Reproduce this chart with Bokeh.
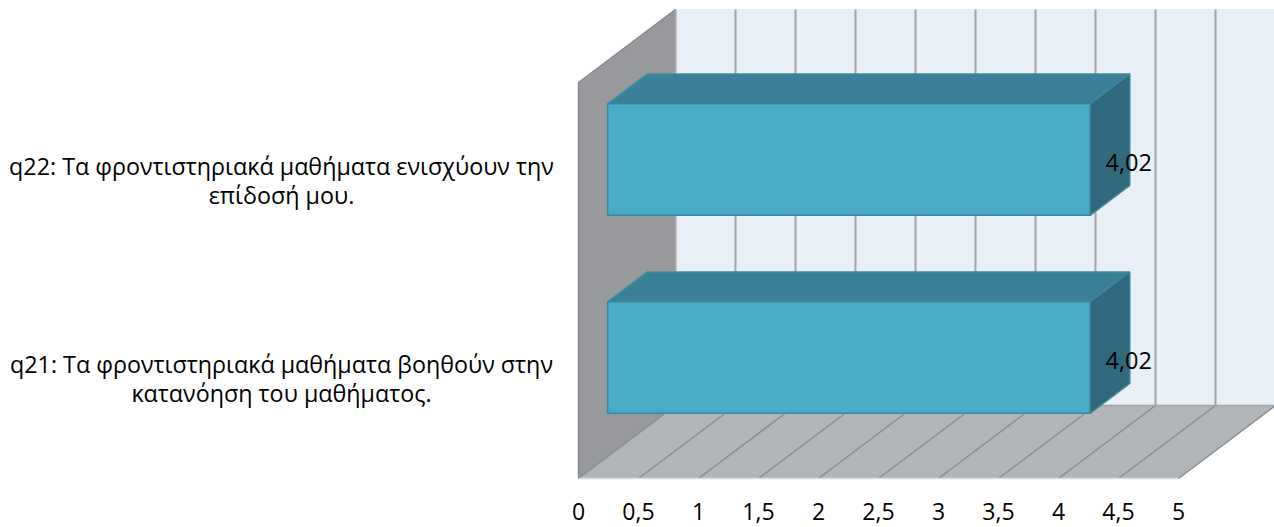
from bokeh.plotting import figure
from bokeh.models import Range1d, FixedTicker
from bokeh.core.properties import value
from bokeh.embed import file_html
from bokeh.resources import INLINE

categories = ["q21: Τα φροντιστηριακά μαθήματα βοηθούν στην\nκατανόηση του μαθήματος.",
              "q22: Τα φροντιστηριακά μαθήματα ενισχύουν την\nεπίδοσή μου."]
values = [4.02, 4.02]
ticks = [0, 0.5, 1, 1.5, 2, 2.5, 3, 3.5, 4, 4.5, 5]
tick_labels = ["0", "0,5", "1", "1,5", "2", "2,5", "3", "3,5", "4", "4,5", "5"]
value_labels = ["4,02", "4,02"]

FONT = "Open Sans"
W, H = 1274, 527
PX_X, PX_Y = 120.0, 198.0     # pixels per value unit, pixels per category
X0, Y0 = 578.0, 478.0         # pixel of the front-bottom origin
DX, DY = 97.0 / PX_X, 73.0 / PX_Y   # full depth shift in data units
AX_MAX, N = ticks[-1], len(categories)
D_FRONT, D_BACK = 0.30, 0.71
BAR = 0.563


def pr(v, c, d):
    return v + d * DX, c + d * DY


def quad(points):
    pts = [pr(*q) for q in points]
    return [a for a, _ in pts], [b for _, b in pts]


p = figure(width=W, height=H, output_backend="svg", toolbar_location=None,
           x_range=Range1d(-X0 / PX_X, (W - X0) / PX_X),
           y_range=Range1d((Y0 - H) / PX_Y, Y0 / PX_Y),
           min_border=0, min_border_left=0, min_border_right=0, min_border_top=0, min_border_bottom=0,
           outline_line_color=None, background_fill_color=None, border_fill_color=None)
p.grid.visible = False
p.yaxis.visible = False

# walls and floor
for pts, col in [
    ([(0, 0, 1), (AX_MAX, 0, 1), (AX_MAX, N, 1), (0, N, 1)], "#E9EFF6"),
    ([(0, 0, 0), (0, 0, 1), (0, N, 1), (0, N, 0)], "#97999C"),
    ([(0, 0, 0), (AX_MAX, 0, 0), (AX_MAX, 0, 1), (0, 0, 1)], "#B1B5B8"),
]:
    xs, ys = quad(pts)
    p.patch(xs, ys, fill_color=col, line_color=col, line_width=1)

# grid lines
for t in ticks:
    xs, ys = quad([(t, 0, 1), (t, N, 1)])
    p.line(xs, ys, line_color="#A3A3A3", line_width=2)
    xs, ys = quad([(t, 0, 0), (t, 0, 1)])
    p.line(xs, ys, line_color="#8A8D90", line_width=1.5)
xs, ys = quad([(0, 0, 0), (AX_MAX, 0, 0)])
p.line(xs, ys, line_color="#DADCDD", line_width=1.5)
xs, ys = quad([(0, 0, 1), (AX_MAX, 0, 1)])
p.line(xs, ys, line_color="#A3A6A9", line_width=1.5)
xs, ys = quad([(0, N, 0), (0, 0, 0)])
p.line(xs, ys, line_color="#8A8C8F", line_width=1.5)
xs, ys = quad([(0, N, 0), (0, N, 1)])
p.line(xs, ys, line_color="#8A8C8F", line_width=1.5)

# bars, from the back one forward
for i in range(N - 1, -1, -1):
    v = values[i]
    lo, hi = i + 0.5 - BAR / 2, i + 0.5 + BAR / 2
    top = [(0, hi, D_FRONT), (v, hi, D_FRONT), (v, hi, D_BACK), (0, hi, D_BACK)]
    side = [(v, lo, D_FRONT), (v, lo, D_BACK), (v, hi, D_BACK), (v, hi, D_FRONT)]
    front = [(0, lo, D_FRONT), (v, lo, D_FRONT), (v, hi, D_FRONT), (0, hi, D_FRONT)]
    for pts, col, edge in [(top, "#3A8198", "#3F8DA3"), (side, "#31697C", "#3F8598"), (front, "#49ABC6", "#38879C")]:
        xs, ys = quad(pts)
        p.patch(xs, ys, fill_color=col, line_color=edge, line_width=1.5)

# value labels
lx, ly = [], []
for i, v in enumerate(values):
    a, b = pr(v, i + 0.5 + 0.097, 0.70)
    lx.append(a)
    ly.append(b - 0.70 * DY)
p.text(lx, ly, text=value_labels, text_font=value(FONT), text_font_size="23.5px",
       text_align="center", text_baseline="middle", text_color="#000000")

# category labels
p.text([-X0 / PX_X + 281 / PX_X] * N,
       [i + 0.5 + 1 / PX_Y for i in range(N)],
       text=categories, text_font=value(FONT), text_font_size="23.3px",
       text_align="center", text_baseline="middle", text_color="#000000",
       text_line_height=0.92)

ax = p.xaxis[0]
ax.fixed_location = 0
ax.ticker = FixedTicker(ticks=ticks)
ax.major_label_overrides = {t: s for t, s in zip(ticks, tick_labels)}
ax.major_label_text_font = FONT
ax.major_label_text_font_size = "23px"
ax.major_label_text_color = "#000000"
ax.major_label_standoff = 18
ax.axis_line_color = None
ax.major_tick_line_color = None
ax.minor_tick_line_color = None

open("out.html", "w").write(file_html(p, INLINE))
